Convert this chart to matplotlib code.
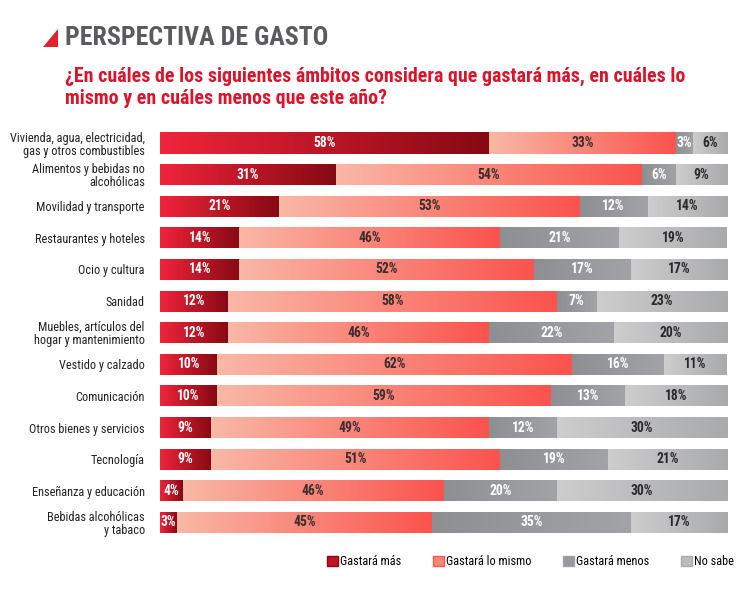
import matplotlib.pyplot as plt
import matplotlib.colors as mcolors
from matplotlib import font_manager as fm
from matplotlib.patches import Patch, Polygon
import numpy as np

# condensed DIN-like face if one is present, else Roboto
available = {f.name for f in fm.fontManager.ttflist}
narrow = next((n for n in ["Roboto Condensed", "PT Sans Narrow", "Archivo Narrow",
                           "Barlow Semi Condensed", "Liberation Sans Narrow"] if n in available), "Roboto")
plt.rcParams['font.family'] = [narrow, 'DejaVu Sans']

categories = [
    "Vivienda, agua, electricidad,\ngas y otros combustibles",
    "Alimentos y bebidas no\nalcohólicas",
    "Movilidad y transporte",
    "Restaurantes y hoteles",
    "Ocio y cultura",
    "Sanidad",
    "Muebles, artículos del\nhogar y mantenimiento",
    "Vestido y calzado",
    "Comunicación",
    "Otros bienes y servicios",
    "Tecnología",
    "Enseñanza y educación",
    "Bebidas alcohólicas\ny tabaco",
]
mas = [58, 31, 21, 14, 14, 12, 12, 10, 10, 9, 9, 4, 3]
mismo = [33, 54, 53, 46, 52, 58, 46, 62, 59, 49, 51, 46, 45]
menos = [3, 6, 12, 21, 17, 7, 22, 16, 13, 12, 19, 20, 35]
no_sabe = [6, 9, 14, 19, 17, 23, 20, 11, 18, 30, 21, 30, 17]

series_names = ["Gastará más", "Gastará lo mismo", "Gastará menos", "No sabe"]
# (left colour, right colour, text colour)
styles = [
    ("#f0243a", "#870914", "white"),
    ("#f9b7a5", "#fb544e", "#3a2d2d"),
    ("#8e8f93", "#a2a3a7", "white"),
    ("#cdcdce", "#a9aaac", "#2a2a2a"),
]

fig = plt.figure(figsize=(7.48, 5.92), dpi=100)
ax = fig.add_axes([0.214, 0.091, 0.758, 0.694])

data = np.array([mas, mismo, menos, no_sabe], dtype=float).T
totals = data.sum(axis=1, keepdims=True)
shares = data / totals * 100
y = np.arange(len(categories))
h = 0.67

for i in range(len(categories)):
    left = 0
    for j in range(4):
        w = shares[i, j]
        c1, c2, tc = styles[j]
        bar = ax.barh(y[i], w, left=left, height=h, color=c2, linewidth=0)[0]
        cmap = mcolors.LinearSegmentedColormap.from_list("g", [c1, c2])
        grad = np.linspace(0, 1, 64).reshape(1, -1)
        im = ax.imshow(grad, cmap=cmap, aspect="auto", interpolation="bicubic",
                       extent=(left, left + w, y[i] - h / 2, y[i] + h / 2), zorder=2)
        im.set_clip_path(bar)
        ax.text(left + w / 2, y[i], f"{int(data[i, j])}%", ha="center", va="center",
                color=tc, fontsize=9.8, fontweight="bold", zorder=3)
        left += w

ax.set_xlim(0, 100)
ax.set_ylim(len(categories) - 0.5, -0.5)
ax.set_yticks(y)
ax.set_yticklabels(categories, fontsize=8.8, color="#222222", linespacing=1.0)
ax.tick_params(axis="y", length=0, pad=11)
ax.set_xticks([])
for s in ax.spines.values():
    s.set_visible(False)

# header
fig.patches.append(Polygon([(0.057, 0.92), (0.078, 0.92), (0.078, 0.951)], closed=True,
                           transform=fig.transFigure, facecolor="#e4202f", edgecolor="none"))
fig.text(0.087, 0.936, "PERSPECTIVA DE GASTO", fontsize=18.6, fontweight="bold",
         color="#5a5b5e", va="center")
fig.text(0.087, 0.853, "¿En cuáles de los siguientes ámbitos considera que gastará más, en cuáles lo\n"
         "mismo y en cuáles menos que este año?", fontsize=14.3, fontweight="bold",
         color="#d9142b", va="center", linespacing=1.2)

handles = [Patch(facecolor=mcolors.to_hex(np.mean([mcolors.to_rgb(s[0]), mcolors.to_rgb(s[1])], axis=0)),
                 edgecolor=s[1], label=n) for s, n in zip(styles, series_names)]
fig.legend(handles=handles, loc="center left", bbox_to_anchor=(0.437, 0.051), ncol=4, frameon=False,
           fontsize=8.8, handlelength=0.9, handleheight=0.9, handletextpad=0.2, columnspacing=2.55,
           borderpad=0, borderaxespad=0)

fig.savefig("out.png", dpi=100)
